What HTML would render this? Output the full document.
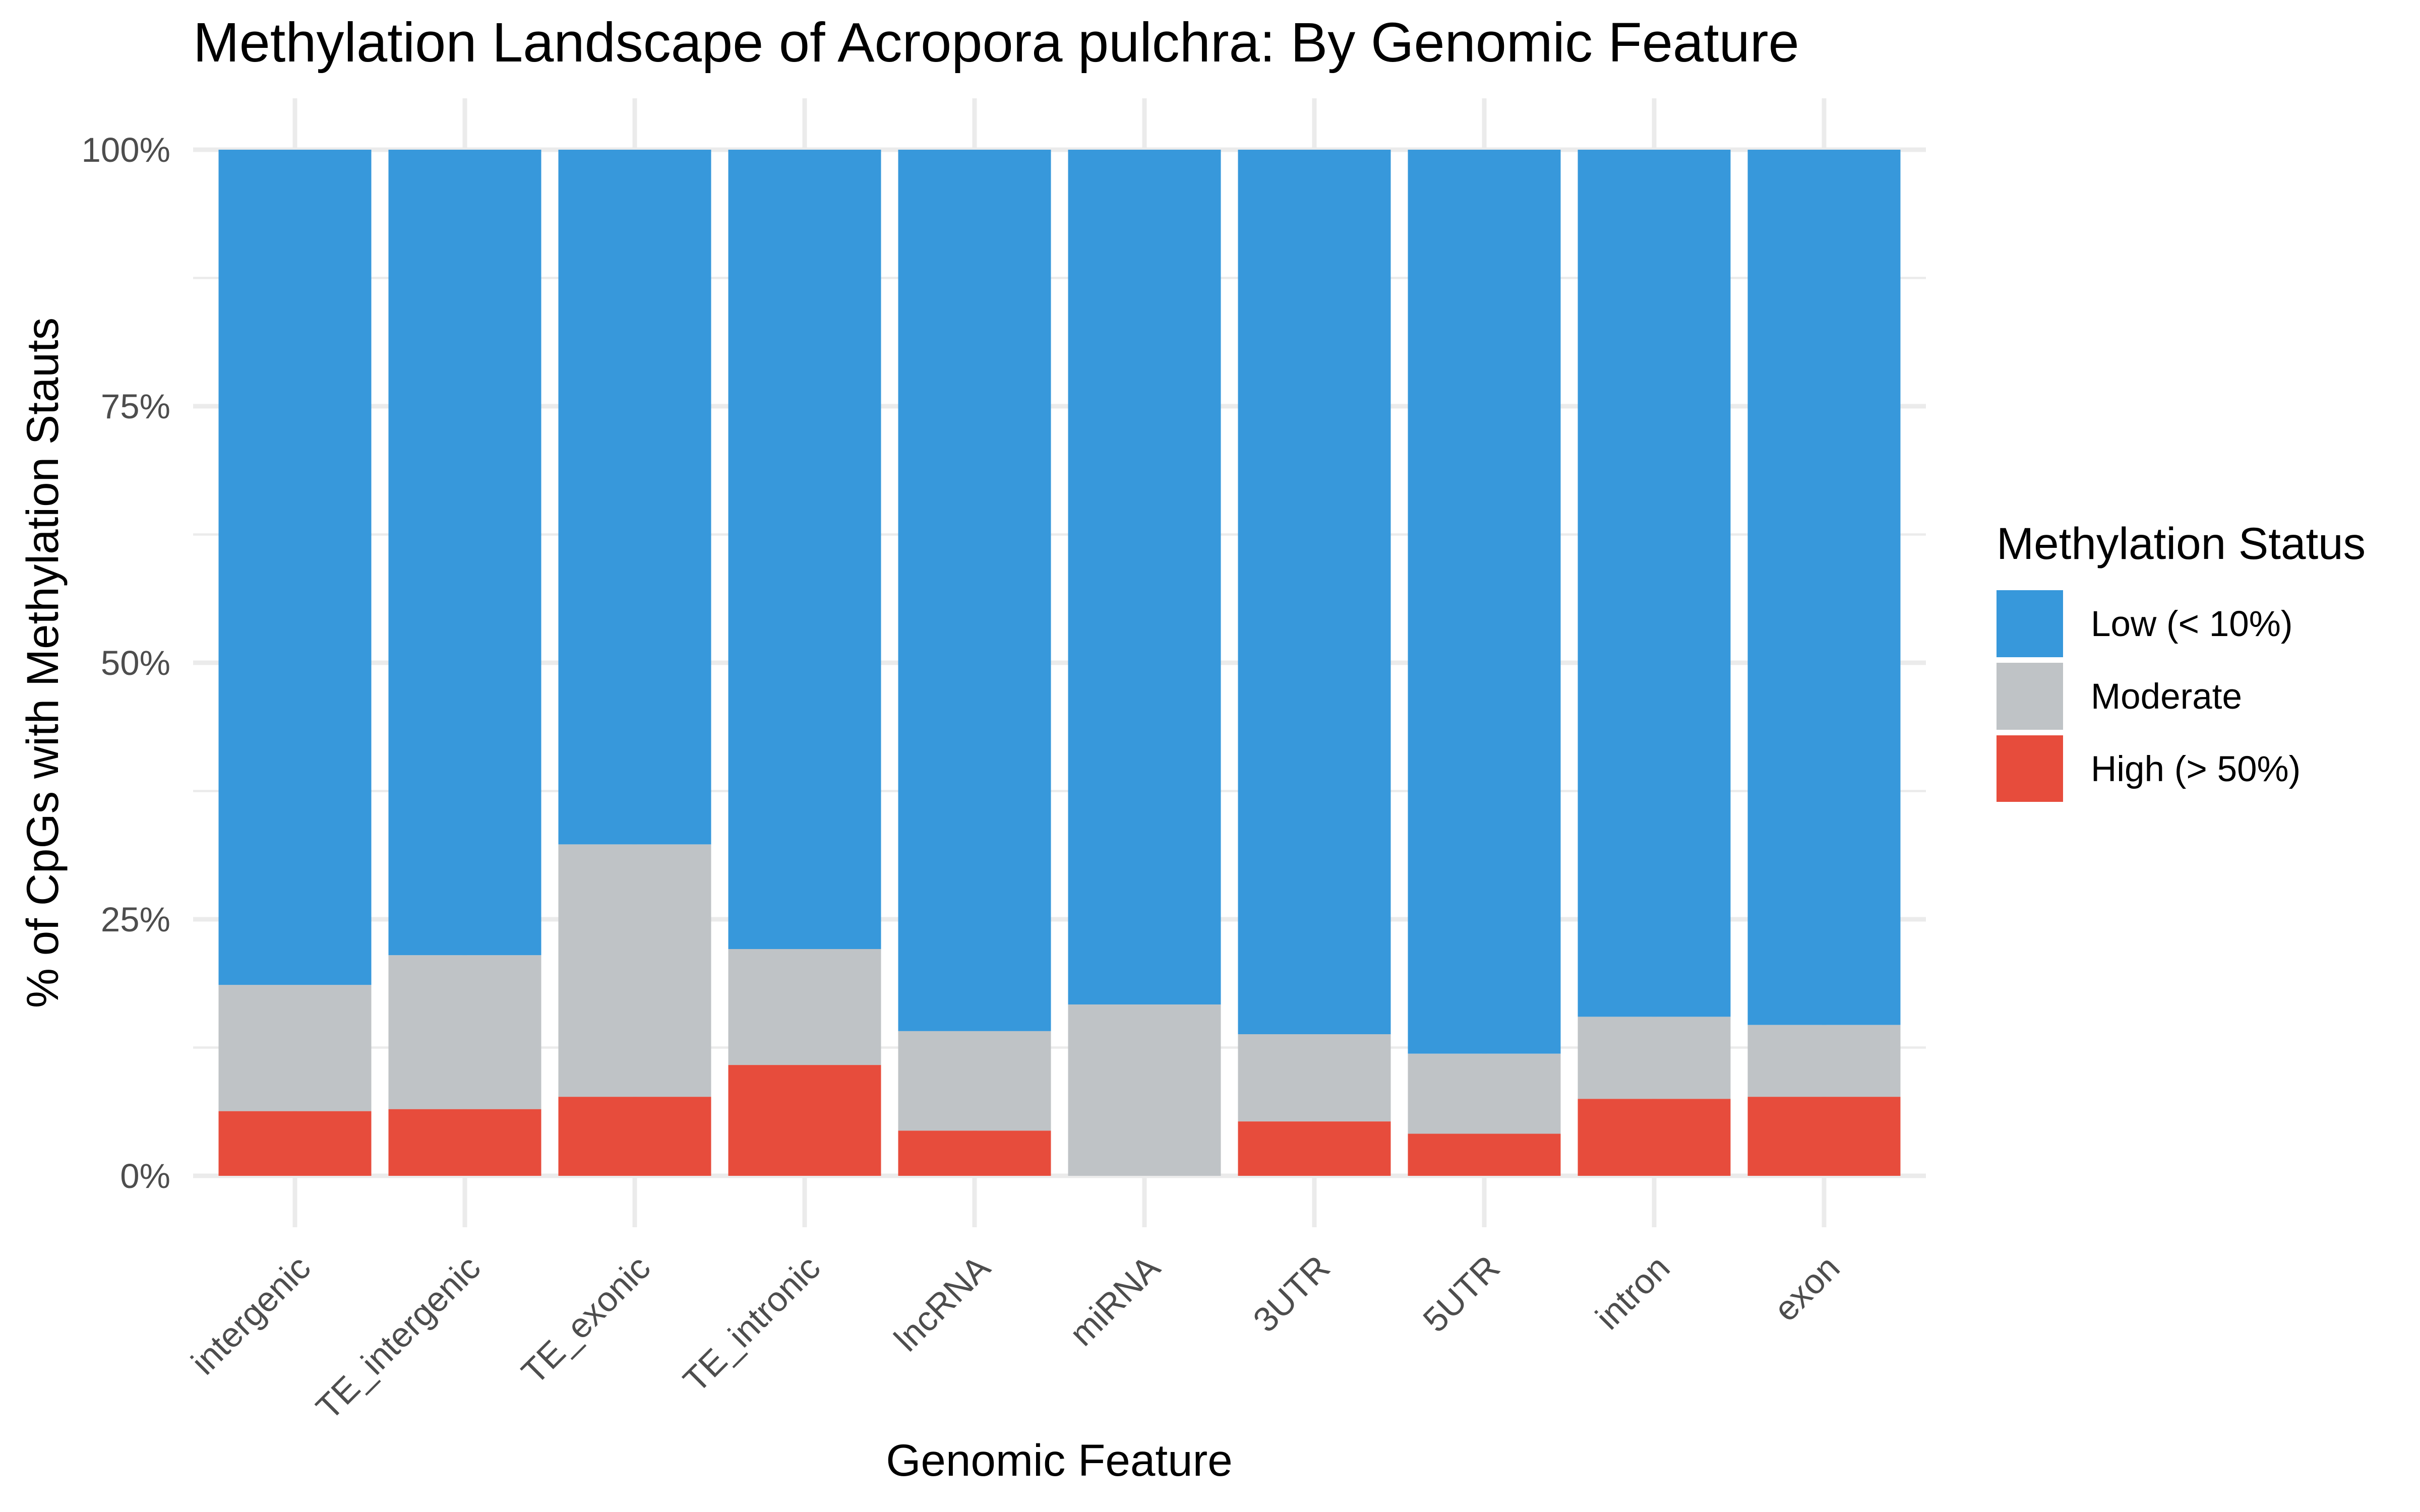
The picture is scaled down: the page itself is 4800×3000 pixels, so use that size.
<!DOCTYPE html>
<html><head><meta charset="utf-8"><style>html,body{margin:0;padding:0;background:#fff}svg{display:block}</style></head>
<body>
<svg width="4800" height="3000" viewBox="0 0 4800 3000" xmlns="http://www.w3.org/2000/svg" font-family="Liberation Sans, sans-serif">
<rect width="4800" height="3000" fill="#fff"/>
<g stroke="#ebebeb">
<g stroke-width="4.5">
<line x1="383" x2="3820" y1="2078.5" y2="2078.5"/>
<line x1="383" x2="3820" y1="1569.5" y2="1569.5"/>
<line x1="383" x2="3820" y1="1060.5" y2="1060.5"/>
<line x1="383" x2="3820" y1="551.5" y2="551.5"/>
</g>
<g stroke-width="9">
<line x1="383" x2="3820" y1="2333" y2="2333"/>
<line x1="383" x2="3820" y1="1824" y2="1824"/>
<line x1="383" x2="3820" y1="1315" y2="1315"/>
<line x1="383" x2="3820" y1="806" y2="806"/>
<line x1="383" x2="3820" y1="297" y2="297"/>
<line x1="585" x2="585" y1="195" y2="2435"/>
<line x1="922" x2="922" y1="195" y2="2435"/>
<line x1="1259" x2="1259" y1="195" y2="2435"/>
<line x1="1596" x2="1596" y1="195" y2="2435"/>
<line x1="1933" x2="1933" y1="195" y2="2435"/>
<line x1="2270" x2="2270" y1="195" y2="2435"/>
<line x1="2607" x2="2607" y1="195" y2="2435"/>
<line x1="2944" x2="2944" y1="195" y2="2435"/>
<line x1="3281" x2="3281" y1="195" y2="2435"/>
<line x1="3618" x2="3618" y1="195" y2="2435"/>
</g>
</g>
<g fill="#3798db">
<rect x="433.5" y="297" width="303" height="1657.3"/>
<rect x="770.5" y="297" width="303" height="1598.3"/>
<rect x="1107.5" y="297" width="303" height="1378.4"/>
<rect x="1444.5" y="297" width="303" height="1586"/>
<rect x="1781.5" y="297" width="303" height="1748.9"/>
<rect x="2118.5" y="297" width="303" height="1696"/>
<rect x="2455.5" y="297" width="303" height="1755"/>
<rect x="2792.5" y="297" width="303" height="1793.7"/>
<rect x="3129.5" y="297" width="303" height="1720.4"/>
<rect x="3466.5" y="297" width="303" height="1736.7"/>
</g>
<g fill="#bfc3c6">
<rect x="433.5" y="1954.3" width="303" height="250.4"/>
<rect x="770.5" y="1895.3" width="303" height="305.4"/>
<rect x="1107.5" y="1675.4" width="303" height="500.8"/>
<rect x="1444.5" y="1883" width="303" height="230.1"/>
<rect x="1781.5" y="2045.9" width="303" height="197.5"/>
<rect x="2118.5" y="1993" width="303" height="340"/>
<rect x="2455.5" y="2052" width="303" height="173.1"/>
<rect x="2792.5" y="2090.7" width="303" height="158.8"/>
<rect x="3129.5" y="2017.4" width="303" height="162.9"/>
<rect x="3466.5" y="2033.7" width="303" height="142.5"/>
</g>
<g fill="#e74c3c">
<rect x="433.5" y="2204.7" width="303" height="128.3"/>
<rect x="770.5" y="2200.7" width="303" height="132.3"/>
<rect x="1107.5" y="2176.2" width="303" height="156.8"/>
<rect x="1444.5" y="2113.1" width="303" height="219.9"/>
<rect x="1781.5" y="2243.4" width="303" height="89.6"/>
<rect x="2455.5" y="2225.1" width="303" height="107.9"/>
<rect x="2792.5" y="2249.5" width="303" height="83.5"/>
<rect x="3129.5" y="2180.3" width="303" height="152.7"/>
<rect x="3466.5" y="2176.2" width="303" height="156.8"/>
</g>
<g font-size="69" fill="#4d4d4d" text-anchor="end">
<text x="338" y="2357">0%</text>
<text x="338" y="1848">25%</text>
<text x="338" y="1339">50%</text>
<text x="338" y="830">75%</text>
<text x="338" y="321">100%</text>
</g>
<g font-size="69" fill="#4d4d4d" text-anchor="end">
<text transform="translate(620,2520) rotate(-45)">intergenic</text>
<text transform="translate(957,2520) rotate(-45)">TE_intergenic</text>
<text transform="translate(1294,2520) rotate(-45)">TE_exonic</text>
<text transform="translate(1631,2520) rotate(-45)">TE_intronic</text>
<text transform="translate(1968,2520) rotate(-45)">lncRNA</text>
<text transform="translate(2305,2520) rotate(-45)">miRNA</text>
<text transform="translate(2642,2520) rotate(-45)">3UTR</text>
<text transform="translate(2979,2520) rotate(-45)">5UTR</text>
<text transform="translate(3316,2520) rotate(-45)">intron</text>
<text transform="translate(3653,2520) rotate(-45)">exon</text>
</g>
<text x="383" y="122" font-size="110" fill="#000">Methylation Landscape of Acropora pulchra: By Genomic Feature</text>
<text x="2101" y="2928" font-size="89" fill="#000" text-anchor="middle">Genomic Feature</text>
<text transform="translate(115,1315) rotate(-90)" font-size="89" fill="#000" text-anchor="middle">% of CpGs with Methylation Stauts</text>
<text x="3960" y="1109" font-size="89" fill="#000">Methylation Status</text>
<rect x="3960" y="1171" width="132" height="133" fill="#3798db"/>
<rect x="3960" y="1315" width="132" height="133" fill="#bfc3c6"/>
<rect x="3960" y="1459" width="132" height="132" fill="#e74c3c"/>
<g font-size="71" fill="#000">
<text x="4147" y="1262">Low (&lt; 10%)</text>
<text x="4147" y="1406">Moderate</text>
<text x="4147" y="1550">High (&gt; 50%)</text>
</g>
</svg>
</body></html>
